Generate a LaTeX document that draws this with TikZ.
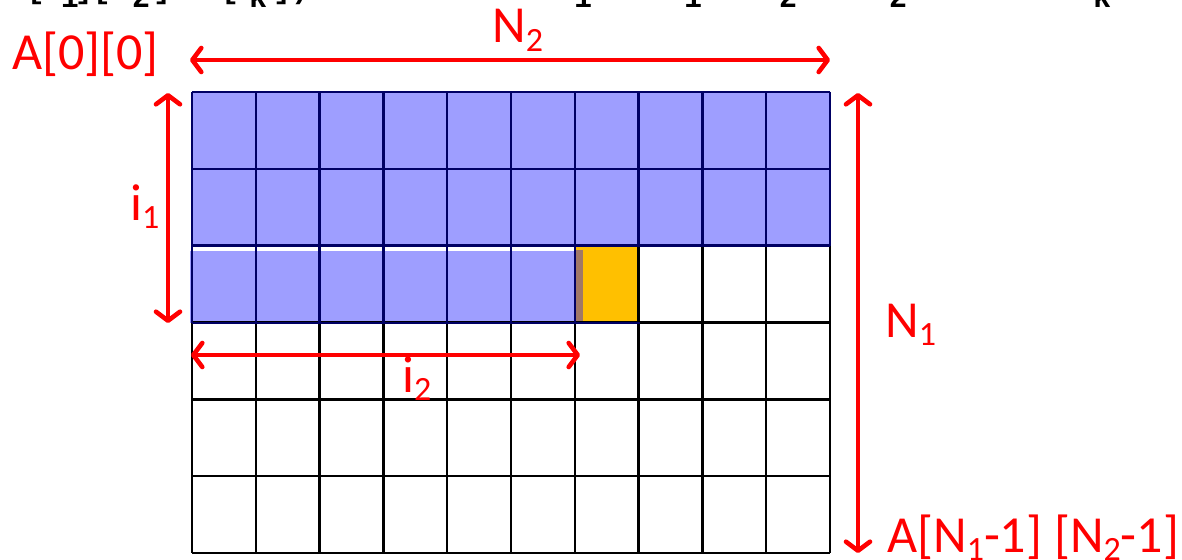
\documentclass[tikz,border=0pt]{standalone}
\usepackage{fontspec}
\setmainfont{Carlito}
\newfontfamily\fragfont{Liberation Mono}
\usetikzlibrary{arrows.meta}
\definecolor{cellblue}{RGB}{158,158,255}
\definecolor{cellorange}{RGB}{255,192,0}
\definecolor{navyline}{RGB}{0,0,100}
\definecolor{brownstrip}{RGB}{160,120,104}
\definecolor{arrowred}{RGB}{255,0,0}
\newcommand\sub[1]{\raisebox{-0.17em}{\fontsize{34}{40}\selectfont #1}}
\begin{document}
\begin{tikzpicture}[x=1pt,y=-1pt,
  gridline/.style={line width=2.5pt,black},
  gridnavy/.style={line width=2.5pt,navyline},
  dimarrow/.style={arrowred,line width=4.6pt,{Straight Barb[length=9pt,width=24pt,line cap=round,line join=round]}-{Straight Barb[length=9pt,width=24pt,line cap=round,line join=round]}},
  lbl/.style={text=arrowred,font=\fontsize{52}{60}\selectfont,inner sep=0pt,anchor=base west},
  frag/.style={font=\fragfont\bfseries\fontsize{30}{34}\selectfont,inner sep=0pt,anchor=south}]
\useasboundingbox (0,0) rectangle (1182,559);
\clip (0,0) rectangle (1182,559);
% clipped fragments of a line above the picture
\node[frag] (b1) at (36,5) {[};
\node[frag] (s1) at (70,8) {1};
\node[frag] (b2) at (84,5) {]};
\node[frag] (b3) at (102,5) {[};
\node[frag] (s2) at (141,8) {2};
\node[frag] (b4) at (162,5) {]};
\node[frag] (b5) at (230,5) {[};
\node[frag] (s3) at (258,8) {k};
\node[frag] (b6) at (282,5) {]};
\node[frag] (b7) at (300,5) {)};
\node[frag] (s4) at (583,8) {1};
\node[frag] (s5) at (693,8) {1};
\node[frag] (s6) at (788,8) {2};
\node[frag] (s7) at (898,8) {2};
\node[frag] (s8) at (1102,8) {k};
% fills
\fill[cellblue] (192,92) rectangle (830,246);
\fill[cellblue] (190,251) rectangle (576,323);
\fill[cellorange] (576,246) rectangle (640,323);
\fill[brownstrip] (576,250) rectangle (583,323);
% grid
\foreach \j in {0,...,10} {
  \draw[gridline] ({192+\j*63.8},92) -- ({192+\j*63.8},553);
}
\foreach \i in {0,...,6} {
  \draw[gridline] (192,{92+\i*76.83}) -- (830,{92+\i*76.83});
}
\foreach \j in {0,...,10} {
  \draw[gridnavy] ({192+\j*63.8},92) -- ({192+\j*63.8},246);
}
\foreach \j in {0,...,6} {
  \draw[gridnavy] ({192+\j*63.8},246) -- ({192+\j*63.8},323);
}
\foreach \i in {0,1,2} {
  \draw[gridnavy] (192,{92+\i*76.83}) -- (830,{92+\i*76.83});
}
\draw[gridnavy] (192,323) -- (640,323);
% arrow end points
\coordinate (n2a) at (190,60);
\coordinate (n2b) at (830,60);
\coordinate (n1a) at (858,93);
\coordinate (n1b) at (858,553);
\coordinate (i1a) at (168,93);
\coordinate (i1b) at (168,323);
\coordinate (i2a) at (191,355);
\coordinate (i2b) at (580,355);
\draw[dimarrow] (n2a) -- (n2b);
\draw[dimarrow] (n1a) -- (n1b);
\draw[dimarrow] (i1a) -- (i1b);
\draw[dimarrow] (i2a) -- (i2b);
% labels
\node[lbl] (a00) at (12,70) {A[0][0]};
\node[lbl] (ln2) at (492,43) {N\sub{2}};
\node[lbl] (ln1) at (885,337) {N\sub{1}};
\node[lbl] (li1) at (130,220) {i\sub{1}};
\node[lbl] (li2) at (402,392) {i\sub{2}};
\node[lbl] (aend) at (887,552) {A[N\sub{1}-1] [N\sub{2}-1]};
\end{tikzpicture}
\end{document}
